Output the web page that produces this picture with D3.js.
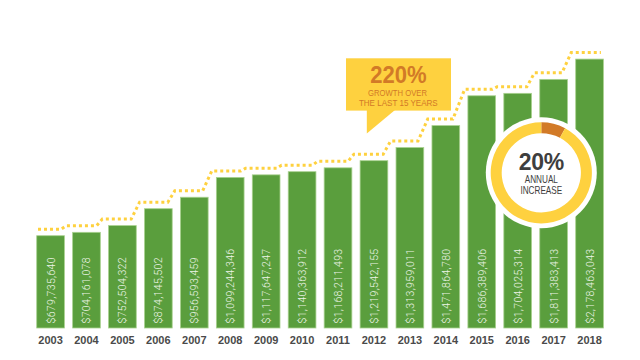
<!DOCTYPE html>
<html>
<head>
<meta charset="utf-8">
<script src="https://cdn.jsdelivr.net/npm/d3@7"></script>
<style>
  html, body { margin: 0; padding: 0; background: #ffffff; }
  svg { display: block; }
</style>
</head>
<body>
<svg id="chart" width="640" height="360"></svg>
<script>
// ---- data ----
const years = ["2003","2004","2005","2006","2007","2008","2009","2010","2011","2012","2013","2014","2015","2016","2017","2018"];
const values = [679735640, 704161078, 752504322, 874145502, 956593459, 1099244346, 1117647247, 1140363912, 1168211493, 1219542155, 1313959011, 1471864780, 1686389406, 1704025314, 1811383413, 2178463043];
const calloutLines = ["220%", "GROWTH OVER", "THE LAST 15 YEARS"];
const donutLines = ["20%", "ANNUAL", "INCREASE"];
const donutShares = [0.078, 0.922]; // drawn portion of ring (orange, yellow)

// ---- styles ----
const GREEN = "#5a9e3d", GREEN_EDGE = "#a9d18f", YELLOW = "#fed13f", ORANGE = "#d27a27", DARK = "#3e3e3e";
const SANS = "'Liberation Sans', Arial, sans-serif";

const svg = d3.select("#chart");
const baseline = 328;

const x = d3.scaleBand().domain(years).range([36.7, 603.4]).paddingInner(0.229).paddingOuter(0);
// the artwork compresses the last bar, so the value scale is piecewise linear
const y = d3.scaleLinear().domain([0, 1800e6, 2180e6]).range([330.2, 80, 59]);

// bars
svg.append("g").selectAll("rect").data(values).join("rect")
  .attr("x", (d, i) => x(years[i]))
  .attr("y", d => y(d))
  .attr("width", x.bandwidth())
  .attr("height", d => baseline - y(d))
  .attr("fill", GREEN)
  .attr("stroke", GREEN_EDGE)
  .attr("stroke-width", 0.8);

// value labels (vertical)
const fmt = d3.format("$,");
svg.append("g").selectAll("text").data(values).join("text")
  .attr("transform", (d, i) => `translate(${x(years[i]) + x.bandwidth() / 2 + 0.3},${baseline - 4.5}) rotate(-90)`)
  .attr("dy", "0.35em")
  .attr("text-anchor", "start")
  .attr("font-family", "Roboto, 'Liberation Sans', sans-serif")
  .attr("font-weight", 300)
  .attr("font-size", 10.5)
  .attr("letter-spacing", 0.35)
  .attr("fill", "#eef5e8")
  .text(d => fmt(d));

// year axis
const xAxis = svg.append("g").attr("transform", `translate(0,${baseline})`)
  .call(d3.axisBottom(x).tickSize(0).tickPadding(8));
xAxis.select(".domain").remove();
xAxis.selectAll("text")
  .attr("font-family", SANS)
  .attr("font-weight", "bold")
  .attr("font-size", 11)
  .attr("fill", "#4a4a4a");

// dotted step line above bars
const pts = [];
const lvl = i => y(values[i]) - 6.5;
pts.push([x(years[0]) + 1.3, lvl(0)]);
for (let i = 0; i < years.length - 1; i++) {
  const xr = x(years[i]) + x.bandwidth();
  const xl = x(years[i + 1]);
  const mid = (xr + xl) / 2 - 5;
  const h = 2 + Math.abs(lvl(i + 1) - lvl(i)) * 0.13;
  pts.push([mid - h, lvl(i)]);
  pts.push([mid + h, lvl(i + 1)]);
}
pts.push([x(years[years.length - 1]) + x.bandwidth() - 2.5, lvl(years.length - 1)]);
svg.append("path")
  .attr("d", d3.line()(pts))
  .attr("fill", "none")
  .attr("stroke", YELLOW)
  .attr("stroke-width", 3)
  .attr("stroke-dasharray", "3,3");

// condensed text helper (horizontal squeeze)
function ctext(g, tx, ty, sx, size, weight, color, str) {
  return g.append("text")
    .attr("transform", `translate(${tx},${ty}) scale(${sx},1)`)
    .attr("text-anchor", "middle")
    .attr("font-family", SANS)
    .attr("font-weight", weight)
    .attr("font-size", size)
    .attr("fill", color)
    .text(str);
}

// callout box
const cb = svg.append("g");
cb.append("rect").attr("x", 346).attr("y", 58.3).attr("width", 105).attr("height", 52.3).attr("fill", YELLOW);
cb.append("path").attr("d", d3.line()([[366.8, 110], [395, 110], [366.8, 133.5]])).attr("fill", YELLOW);
ctext(cb, 398.5, 82.8, 0.92, 24, "bold", ORANGE, calloutLines[0]);
ctext(cb, 397.5, 95.6, 0.8, 9.6, "normal", ORANGE, calloutLines[1]);
ctext(cb, 398.3, 105.9, 0.83, 9.7, "normal", ORANGE, calloutLines[2]);

// donut badge
const cx = 541.3, cy = 172.8;
const dg = svg.append("g").attr("transform", `translate(${cx},${cy})`);
dg.append("circle").attr("r", 55.5).attr("fill", "#ffffff");
const pie = d3.pie().sort(null)(donutShares);
const arc = d3.arc().innerRadius(39.6).outerRadius(50.6);
dg.selectAll("path.seg").data(pie).join("path").attr("class", "seg")
  .attr("d", arc)
  .attr("fill", (d, i) => i === 0 ? ORANGE : YELLOW);
ctext(dg, 0, 170 - cy, 1.0, 23, "bold", DARK, donutLines[0]).attr("letter-spacing", -0.3);
ctext(dg, 0, 182.7 - cy, 0.82, 10, "normal", DARK, donutLines[1]);
ctext(dg, 0, 194.1 - cy, 0.82, 10, "normal", DARK, donutLines[2]);
</script>
</body>
</html>
